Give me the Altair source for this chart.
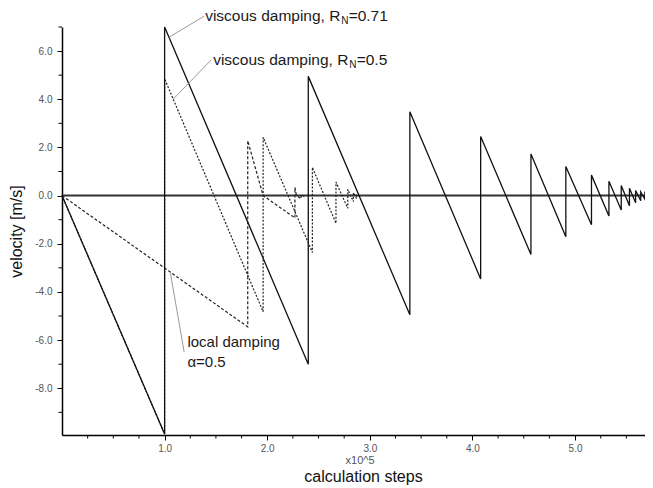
import altair as alt
import pandas as pd

# ---------------- data ----------------
# viscous damping, R_N = 0.71 (solid)
v71_x = [0.0, 1.0, 1.0, 2.40, 2.40, 3.39, 3.39, 4.08, 4.08, 4.57, 4.57, 4.91, 4.91,
         5.16, 5.16, 5.33, 5.33, 5.45, 5.45, 5.53, 5.53, 5.59, 5.59, 5.64, 5.64,
         5.68, 5.68, 5.71, 5.71, 5.73]
v71_y = [0.0, -9.9, 7.0, -7.0, 4.95, -4.95, 3.48, -3.46, 2.45, -2.45, 1.73, -1.71, 1.21,
         -1.21, 0.85, -0.85, 0.60, -0.60, 0.42, -0.42, 0.30, -0.30, 0.21, -0.21, 0.15,
         -0.15, 0.10, -0.10, 0.07, 0.0]

# viscous damping, R_N = 0.5 (dotted)
v05_x = [0.0, 1.0, 1.0, 1.96, 1.96, 2.44, 2.44, 2.67, 2.67, 2.785, 2.785, 2.84, 2.84,
         2.87, 2.87, 2.89]
v05_y = [0.0, -9.9, 4.85, -4.82, 2.42, -2.36, 1.17, -1.15, 0.56, -0.53, 0.26, -0.25, 0.12,
         -0.12, 0.05, 0.0]

# local damping, alpha = 0.5 (dashed)
loc_x = [0.0, 1.81, 1.81, 1.96, 2.27, 2.27, 2.285, 2.33, 2.33, 2.36]
loc_y = [0.0, -5.45, 2.28, 0.0, -0.93, 0.34, 0.0, -0.13, 0.05, -0.04]

# axis ticks
x_major = [1.0, 2.0, 3.0, 4.0, 5.0]
x_minor = [0.25, 0.5, 0.75, 1.25, 1.5, 1.75, 2.25, 2.5, 2.75, 3.25, 3.5, 3.75,
           4.25, 4.5, 4.75, 5.25, 5.5]
y_major = [-8, -6, -4, -2, 0, 2, 4, 6]
y_minor = [-9, -7, -5, -3, -1, 1, 3, 5, 7]
x_domain = [0.0, 5.74]
y_domain = [-9.94, 7.0]

# annotation texts
ann_pre = ["viscous damping, R", "viscous damping, R"]
ann_sub = ["N", "N"]
ann_post = ["=0.71", "=0.5"]
ann_x = [1.395, 1.473]
ann_y = [7.24, 5.43]

loc_text = ["local damping", "\u03b1=0.5"]
loc_tx = [1.222, 1.222]
loc_ty = [-6.27, -7.13]

lead_x = [1.045, 1.083, 1.19]
lead_y = [6.58, 4.0, -6.49]
lead_x2 = [1.385, 1.455, 1.055]
lead_y2 = [7.45, 5.64, -3.18]

FONT = "Liberation Sans"
W, H = 589, 408


def series(xs, ys):
    return pd.DataFrame({"x": xs, "y": ys, "i": list(range(len(xs)))})


xscale = alt.Scale(domain=x_domain, nice=False, zero=False)
yscale = alt.Scale(domain=y_domain, nice=False, zero=False)

x_axis = alt.Axis(
    values=x_major, format=".1f", tickSize=5,
    title="calculation steps",
    titleFont=FONT, titleFontSize=16, titleFontWeight="normal", titleColor="#111",
    titleX=301, titleY=46, titleBaseline="alphabetic", titleAlign="center",
    labelFont=FONT, labelFontSize=10, labelColor="#555", labelPadding=3,
    labelOverlap=False, labelFlush=False,
    domainColor="#000", domainWidth=1.5, tickColor="#000", tickWidth=1, grid=False,
)
y_axis = alt.Axis(
    values=y_major, tickSize=5,
    labelExpr="(datum.value < 0 ? '-' : '') + format(abs(datum.value), '.1f')",
    title="velocity [m/s]",
    titleFont=FONT, titleFontSize=16, titleFontWeight="normal", titleColor="#111",
    titleX=-41, titleY=204, titleAngle=270, titleBaseline="alphabetic", titleAlign="center",
    labelFont=FONT, labelFontSize=10, labelColor="#555", labelPadding=5,
    labelOverlap=False, labelFlush=False,
    domainColor="#000", domainWidth=1.5, tickColor="#000", tickWidth=1, grid=False,
)

zero = alt.Chart(pd.DataFrame({"x": [x_domain[0]], "x2": [x_domain[1]], "y": [0.0]})).mark_rule(
    color="#333", strokeWidth=2
).encode(
    x=alt.X("x:Q", scale=xscale, axis=x_axis),
    x2="x2:Q",
    y=alt.Y("y:Q", scale=yscale, axis=y_axis),
)

# minor ticks (outside the plot, below / left of the axis lines)
x_minor_ticks = alt.Chart(pd.DataFrame({"v": x_minor})).mark_rule(color="#000", strokeWidth=1).encode(
    x="v:Q", y=alt.value(H), y2=alt.value(H + 3.5)
)
y_minor_ticks = alt.Chart(pd.DataFrame({"v": y_minor})).mark_rule(color="#000", strokeWidth=1).encode(
    y="v:Q", x=alt.value(0), x2=alt.value(-3.5)
)

loc_line = alt.Chart(series(loc_x, loc_y)).mark_line(
    color="#222", strokeWidth=1.2, strokeDash=[3, 2]
).encode(x="x:Q", y="y:Q", order="i:Q")

v05_line = alt.Chart(series(v05_x, v05_y)).mark_line(
    color="#222", strokeWidth=1.2, strokeDash=[2, 1.6]
).encode(x="x:Q", y="y:Q", order="i:Q")

v71_line = alt.Chart(series(v71_x, v71_y)).mark_line(
    color="#111", strokeWidth=1.3
).encode(x="x:Q", y="y:Q", order="i:Q")

leaders = alt.Chart(pd.DataFrame({"x": lead_x, "y": lead_y, "x2": lead_x2, "y2": lead_y2})).mark_rule(
    color="#999", strokeWidth=1
).encode(x="x:Q", y="y:Q", x2="x2:Q", y2="y2:Q")

ann_df = pd.DataFrame({"x": ann_x, "y": ann_y, "pre": ann_pre, "sub": ann_sub, "post": ann_post})
pre_txt = alt.Chart(ann_df).mark_text(
    font=FONT, fontSize=15.5, color="#1a1a1a", align="left", baseline="alphabetic"
).encode(x="x:Q", y="y:Q", text="pre:N")
sub_txt = alt.Chart(ann_df).mark_text(
    font=FONT, fontSize=10, color="#1a1a1a", align="left", baseline="alphabetic", dx=136, dy=3
).encode(x="x:Q", y="y:Q", text="sub:N")
post_txt = alt.Chart(ann_df).mark_text(
    font=FONT, fontSize=15.5, color="#1a1a1a", align="left", baseline="alphabetic", dx=143.5
).encode(x="x:Q", y="y:Q", text="post:N")

loc_txt = alt.Chart(pd.DataFrame({"x": loc_tx, "y": loc_ty, "t": loc_text})).mark_text(
    font=FONT, fontSize=15, color="#1a1a1a", align="left", baseline="alphabetic"
).encode(x="x:Q", y="y:Q", text="t:N")

exp_txt = alt.Chart(pd.DataFrame({"x": [2.905], "y": [-11.03], "t": ["x10^5"]})).mark_text(
    font=FONT, fontSize=11, color="#555", align="center", baseline="middle"
).encode(x="x:Q", y="y:Q", text="t:N")

chart = alt.layer(
    zero, x_minor_ticks, y_minor_ticks, loc_line, v05_line, v71_line, leaders,
    pre_txt, sub_txt, post_txt, loc_txt, exp_txt
).properties(
    width=W,
    height=H,
    autosize=alt.AutoSizeParams(type="none"),
    padding={"left": 54, "top": 19, "right": -6, "bottom": 51},
    background="white",
).configure_view(strokeWidth=0)

chart.save("out.html", embed_options={"renderer": "svg", "actions": False})
